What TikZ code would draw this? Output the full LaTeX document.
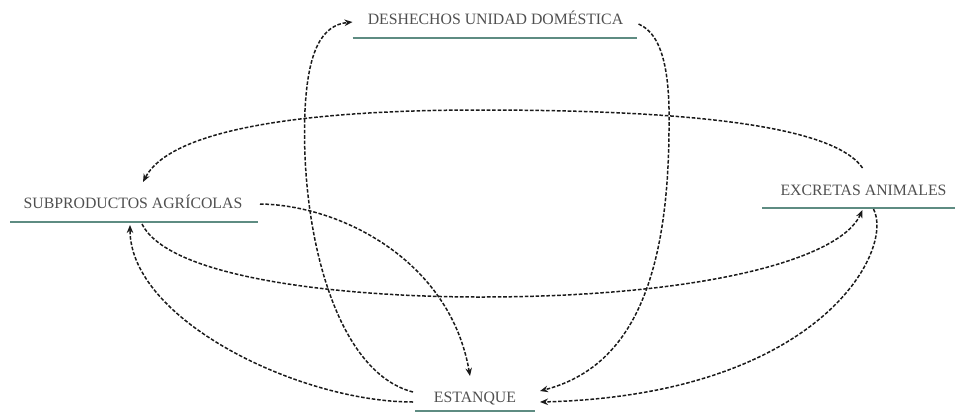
\documentclass[tikz,border=0pt]{standalone}
\usepackage{fontspec}
\setmainfont{Liberation Serif}
\usetikzlibrary{arrows.meta,calc}
\definecolor{lbl}{HTML}{4F4F4F}
\definecolor{uline}{HTML}{5E8C82}
\definecolor{conn}{HTML}{1A1A1A}
\tikzset{
  lab/.style={anchor=base,inner sep=0pt,text=lbl,font=\fontsize{15.8}{18}\selectfont},
  uln/.style={draw=uline,line width=2.8pt},
  flow/.style={draw=conn,line width=1.5pt,dash pattern=on 3.6pt off 1.8pt,
    -{Stealth[length=8pt,width=6.5pt]}}
}
\begin{document}
\begin{tikzpicture}[x=1pt,y=-1pt]
\useasboundingbox (0,0) rectangle (955,418);
% labels
\node[lab] (desh) at (495.5,24) {DESHECHOS UNIDAD DOMÉSTICA};
\node[lab] (sub)  at (133,208)  {SUBPRODUCTOS AGRÍCOLAS};
\node[lab] (exc)  at (863.5,195) {EXCRETAS ANIMALES};
\node[lab] (est)  at (475,402)  {ESTANQUE};
% underlines
\draw[uln] ($(desh.base)+(-143,14)$) -- ($(desh.base)+(141,14)$);
\draw[uln] ($(sub.base)+(-123,14)$) -- ($(sub.base)+(125,14)$);
\draw[uln] ($(exc.base)+(-101.5,13)$) -- ($(exc.base)+(92,13)$);
\draw[uln] ($(est.base)+(-60,9)$) -- ($(est.base)+(60,9)$);
% connectors
% ESTANQUE -> DESHECHOS
\draw[flow] ($(est.base)+(-62,-10)$) .. controls (335,372) and (300,230) .. (305,110)
  .. controls (308,50) and (322,25) .. ($(desh.base)+(-143,-2)$);
% DESHECHOS -> ESTANQUE
\draw[flow] ($(desh.base)+(143,0)$) .. controls (665,35) and (670,80) .. (669,130)
  .. controls (668,300) and (620,370) .. ($(est.base)+(65,-11)$);
% EXCRETAS -> SUBPRODUCTOS
\draw[flow] ($(exc.base)+(-1,-27)$) .. controls (830,120) and (650,110) .. (480,110)
  .. controls (300,110) and (170,130) .. ($(sub.base)+(10,-26)$);
% SUBPRODUCTOS -> EXCRETAS
\draw[flow] ($(sub.base)+(9,16)$) .. controls (170,280) and (350,297) .. (480,297)
  .. controls (700,297) and (840,260) .. ($(exc.base)+(-1,15)$);
% SUBPRODUCTOS -> ESTANQUE
\draw[flow] ($(sub.base)+(127,-4)$) .. controls (340,205) and (450,260) .. ($(est.base)+(-5,-26)$);
% ESTANQUE -> SUBPRODUCTOS
\draw[flow] ($(est.base)+(-62,0)$) .. controls (300,402) and (130,320) .. ($(sub.base)+(-3,17)$);
% EXCRETAS -> ESTANQUE
\draw[flow] ($(exc.base)+(10,14)$) .. controls (895,250) and (820,395) .. ($(est.base)+(65,0)$);
\end{tikzpicture}
\end{document}
